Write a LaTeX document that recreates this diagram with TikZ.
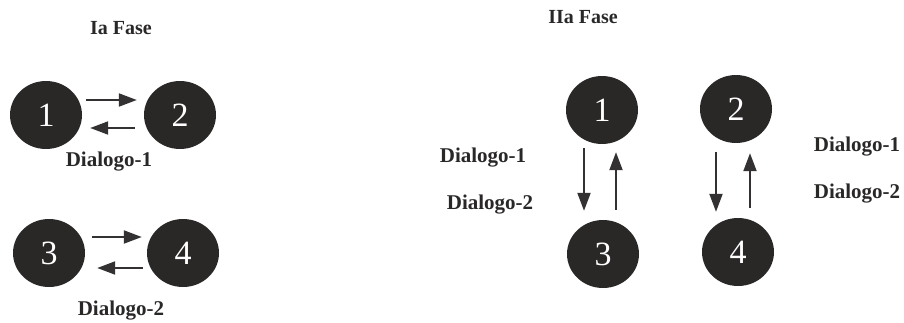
\documentclass[tikz,border=0pt]{standalone}
\usepackage{fontspec}
\setmainfont{Liberation Serif}
\usetikzlibrary{arrows.meta,shapes.geometric}
\definecolor{ink}{HTML}{2A2727}
\definecolor{pen}{HTML}{333131}
\tikzset{
  peer/.style={ellipse, fill=ink, minimum width=72pt, minimum height=68pt, inner sep=0pt,
    text=white, font=\fontsize{34}{34}\selectfont},
  talk/.style={draw=pen, line width=2pt, -{Triangle[length=18pt,width=13pt]}},
  lbl/.style={text=ink, font=\fontsize{21}{21}\selectfont\bfseries},
  ttl/.style={text=ink, font=\fontsize{20}{20}\selectfont\bfseries}
}
\begin{document}
\begin{tikzpicture}[x=1pt,y=-1pt]
  \useasboundingbox (0,0) rectangle (904,322);

  % Phase I: two separate dialogues
  \node[ttl] (t1) at (121,28) {Ia Fase};
  \node[peer] (a1) at (46,115) {1};
  \node[peer] (a2) at (180,115) {2};
  \node[peer] (a3) at (49,253) {3};
  \node[peer] (a4) at (183,253) {4};
  \draw[talk, shorten <=4pt, shorten >=7pt] ([yshift=15pt]a1.east) -- ([yshift=15pt]a2.west);
  \draw[talk, shorten <=9pt, shorten >=8pt] ([yshift=-13pt]a2.west) -- ([yshift=-13pt]a1.east);
  \draw[talk, shorten <=7pt, shorten >=5pt] ([yshift=16pt]a3.east) -- ([yshift=16pt]a4.west);
  \draw[talk, shorten <=4pt, shorten >=12pt] ([yshift=-15pt]a4.west) -- ([yshift=-15pt]a3.east);
  \node[lbl] (d1) at (109,162) {Dialogo-1};
  \node[lbl] (d2) at (121,311) {Dialogo-2};

  % Phase II: crossed dialogues
  \node[ttl] (t2) at (583,17) {IIa Fase};
  \node[peer] (b1) at (602,110) {1};
  \node[peer] (b2) at (736,109) {2};
  \node[peer] (b3) at (603,254) {3};
  \node[peer] (b4) at (738,252) {4};
  \draw[talk, shorten <=4pt, shorten >=9pt] ([xshift=-18pt]b1.south) -- ([xshift=-19pt]b3.north);
  \draw[talk, shorten <=10pt, shorten >=8pt] ([xshift=13pt]b3.north) -- ([xshift=14pt]b1.south);
  \draw[talk, shorten <=9pt, shorten >=6pt] ([xshift=-20pt]b2.south) -- ([xshift=-22pt]b4.north);
  \draw[talk, shorten <=10pt, shorten >=10pt] ([xshift=12pt]b4.north) -- ([xshift=14pt]b2.south);
  \node[lbl] (e1) at (483,158) {Dialogo-1};
  \node[lbl] (e2) at (490,205) {Dialogo-2};
  \node[lbl] (f1) at (857,147) {Dialogo-1};
  \node[lbl] (f2) at (857,194) {Dialogo-2};
\end{tikzpicture}
\end{document}
